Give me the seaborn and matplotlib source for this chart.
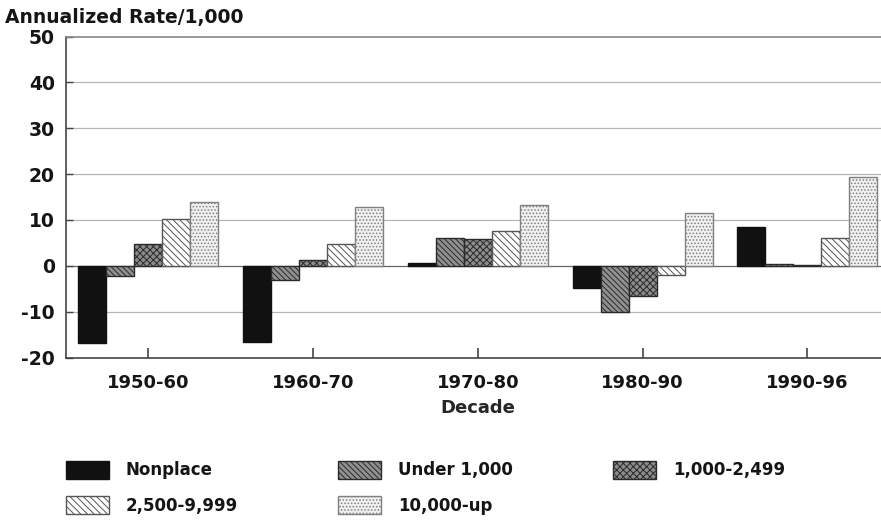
import numpy as np
import pandas as pd
import matplotlib
matplotlib.use('Agg')
import matplotlib.pyplot as plt
from matplotlib.patches import Patch
import seaborn as sns

# values
decades = ['1950-60', '1960-70', '1970-80', '1980-90', '1990-96']
sizes = ['Nonplace', 'Under 1,000', '1,000-2,499', '2,500-9,999', '10,000-up']
nonplace = [-16.8, -16.6, 0.6, -4.8, 8.5]
under_1000 = [-2.2, -3.0, 6.0, -10.0, 0.3]
from_1000 = [4.8, 1.2, 5.8, -6.5, 0.2]
from_2500 = [10.2, 4.8, 7.6, -2.0, 6.0]
over_10000 = [14.0, 12.9, 13.3, 11.5, 19.4]

series = [nonplace, under_1000, from_1000, from_2500, over_10000]
df = pd.DataFrame({
    'Decade': np.tile(decades, len(sizes)),
    'Size': np.repeat(sizes, len(decades)),
    'Rate': np.concatenate(series),
})

# fill, hatch and edge for each size class
styles = {
    'Nonplace':    ('#111111', '',                '#111111'),
    'Under 1,000': ('#909090', '\\\\\\\\\\\\',    '#2a2a2a'),
    '1,000-2,499': ('#8c8c8c', 'xxxxx',           '#2a2a2a'),
    '2,500-9,999': ('#ffffff', '\\\\\\\\\\',      '#555555'),
    '10,000-up':   ('#f0f0f0', '.....',           '#808080'),
}

sns.set_theme(style='white')
plt.rcParams['font.family'] = ['DejaVu Sans']
plt.rcParams['font.weight'] = 'bold'
plt.rcParams['axes.unicode_minus'] = False
plt.rcParams['hatch.linewidth'] = 0.7
plt.rcParams['text.color'] = '#151515'
plt.rcParams['xtick.color'] = '#151515'
plt.rcParams['ytick.color'] = '#151515'

fig = plt.figure(figsize=(8.81, 5.22), dpi=100)
ax = fig.add_axes([0.075, 0.315, 0.935, 0.615])

sns.barplot(data=df, x='Decade', y='Rate', hue='Size', hue_order=sizes,
            order=decades, width=0.85, ax=ax, legend=False)

for size, cont in zip(sizes, ax.containers):
    fc, hatch, ec = styles[size]
    for bar in cont:
        bar.set_facecolor(fc)
        bar.set_edgecolor(ec)
        bar.set_hatch(hatch)
        bar.set_linewidth(1.0)

ax.set_ylim(-20, 50)
ax.set_xlim(-0.5, 4.5)
ax.set_yticks(range(-20, 51, 10))
for y in range(-10, 50, 10):
    ax.axhline(y, color='#b5b5b5' if y else '#666666', lw=0.9, zorder=0)

ax.spines['right'].set_visible(False)
ax.spines['top'].set_color('#888888')
ax.spines['left'].set_color('#444444')
ax.spines['bottom'].set_color('#444444')
for side in ['top', 'left', 'bottom']:
    ax.spines[side].set_linewidth(1.2)

ax.tick_params(axis='x', direction='in', length=7, width=1.2, color='#444444',
               labelsize=13, pad=12, bottom=True)
ax.tick_params(axis='y', direction='in', length=5, width=1, color='#444444',
               labelsize=13.5, pad=8, left=True)
ax.set_xlabel('Decade', fontsize=13, fontweight='bold', labelpad=5)
ax.set_ylabel('')
fig.text(0.006, 0.966, 'Annualized Rate/1,000', fontsize=13.5, fontweight='bold',
         ha='left', va='center')

handles = {s: Patch(facecolor=styles[s][0], hatch=styles[s][1],
                    edgecolor=styles[s][2], label=s) for s in sizes}
order = ['Nonplace', '2,500-9,999', 'Under 1,000', '10,000-up', '1,000-2,499']
fig.legend([handles[s] for s in order], order, ncol=3, loc='upper left',
           bbox_to_anchor=(0.067, 0.13), frameon=False, fontsize=12,
           handlelength=2.6, handleheight=1.3, handletextpad=1.0,
           columnspacing=6.0, labelspacing=1.0, borderaxespad=0)
for t in fig.legends[0].get_texts():
    t.set_fontweight('bold')

fig.savefig('out.png', dpi=100)
